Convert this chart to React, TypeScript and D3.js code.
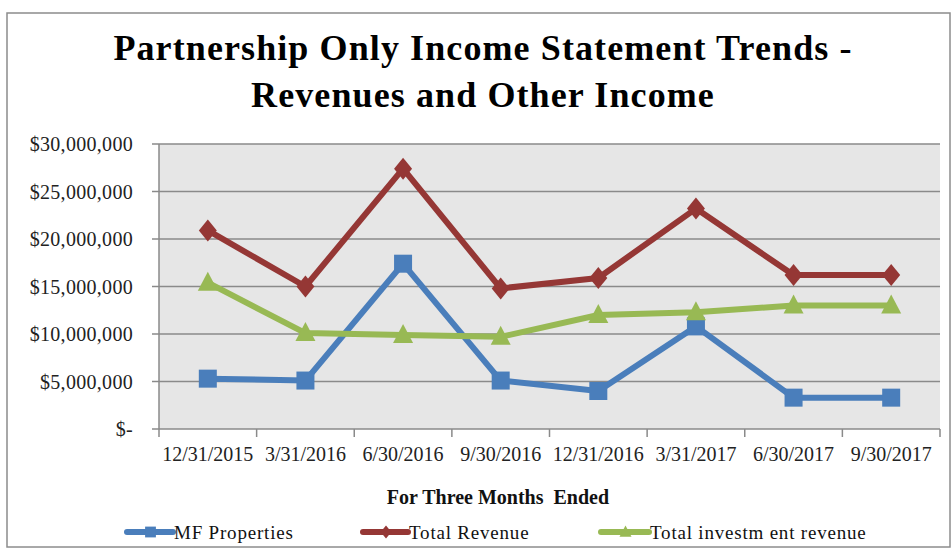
import React from "react";
import * as d3 from "d3";

const categories = ["12/31/2015", "3/31/2016", "6/30/2016", "9/30/2016", "12/31/2016", "3/31/2017", "6/30/2017", "9/30/2017"];
const mfProperties = [5.3e6, 5.1e6, 17.4e6, 5.1e6, 4.0e6, 10.8e6, 3.3e6, 3.3e6];
const totalRevenue = [20.9e6, 15.0e6, 27.4e6, 14.8e6, 15.9e6, 23.2e6, 16.2e6, 16.2e6];
const totalInvestment = [15.4e6, 10.1e6, 9.9e6, 9.7e6, 12.0e6, 12.3e6, 13.0e6, 13.0e6];
const yTicks = [0, 5e6, 10e6, 15e6, 20e6, 25e6, 30e6];
const titleLines = ["Partnership Only Income Statement Trends -", "Revenues and Other Income"];
const xAxisTitle = "For Three Months  Ended";
const seriesNames = ["MF Properties", "Total Revenue", "Total investm ent revenue"];

const W = 951, H = 549;
const PL = 159, PR = 940, PT = 144, PB = 429;
const FONT = "'Liberation Serif', 'Times New Roman', serif";

export default function App() {
  const x = d3.scaleBand<string>().domain(categories).range([PL, PR]);
  const y = d3.scaleLinear().domain([0, 30e6]).range([PB, PT]);
  const cx = (c: string) => (x(c) as number) + x.bandwidth() / 2;
  const line = d3.line<number>().x((_, i) => cx(categories[i])).y((v) => y(v));
  const fmt = (v: number) => (v === 0 ? "$-" : "$" + d3.format(",")(v));

  const series = [
    { name: seriesNames[0], data: mfProperties, color: "#4A7EBB", marker: "square" },
    { name: seriesNames[1], data: totalRevenue, color: "#953735", marker: "diamond" },
    { name: seriesNames[2], data: totalInvestment, color: "#98B954", marker: "triangle" },
  ];

  const marker = (type: string, px: number, py: number, color: string, key: any, s = 1) => {
    if (type === "square") return <rect key={key} x={px - 9 * s} y={py - 9 * s} width={18 * s} height={18 * s} fill={color} />;
    if (type === "diamond") return <path key={key} d={`M${px},${py - 11 * s}L${px + 9 * s},${py}L${px},${py + 11 * s}L${px - 9 * s},${py}Z`} fill={color} />;
    return <path key={key} d={`M${px},${py - 11 * s}L${px + 10 * s},${py + 8 * s}L${px - 10 * s},${py + 8 * s}Z`} fill={color} />;
  };

  const legendX = [127, 363, 601];
  const legendTextX = [174, 409, 650];

  return (
    <svg width={W} height={H} style={{ position: "absolute", left: 0, top: 0, background: "#fff" }} fontFamily={FONT}>
      <rect x={7} y={13} width={943} height={534} fill="#fff" stroke="#8c8c8c" strokeWidth={1.5} />
      {titleLines.map((t, i) => (
        <text key={i} x={483} y={60 + i * 47} textAnchor="middle" fontSize={36} letterSpacing={1.1} fontWeight="bold" fill="#000">{t}</text>
      ))}
      <rect x={PL} y={PT} width={PR - PL} height={PB - PT} fill="#E6E6E6" />
      {yTicks.map((t) => (
        <g key={t}>
          <line x1={PL - 7} x2={PR} y1={y(t)} y2={y(t)} stroke="#8a8a8a" strokeWidth={1.5} />
          <text x={133} y={y(t) + 7} textAnchor="end" fontSize={20} letterSpacing={0.3} fill="#222">{fmt(t)}</text>
        </g>
      ))}
      <line x1={PL} x2={PL} y1={PT} y2={PB} stroke="#8a8a8a" strokeWidth={1.5} />
      {d3.range(categories.length + 1).map((i) => {
        const xx = PL + i * x.step();
        return <line key={i} x1={xx} x2={xx} y1={PB} y2={PB + 8} stroke="#8a8a8a" strokeWidth={1.5} />;
      })}
      {categories.map((c) => (
        <text key={c} x={cx(c)} y={461} textAnchor="middle" fontSize={20} fill="#222">{c}</text>
      ))}
      <text x={498} y={504} textAnchor="middle" fontSize={20} fontWeight="bold" fill="#111" style={{ whiteSpace: "pre" }}>{xAxisTitle}</text>
      {series.map((s) => (
        <g key={s.name}>
          <path d={line(s.data) as string} fill="none" stroke={s.color} strokeWidth={6} strokeLinejoin="round" />
          {s.data.map((v, i) => marker(s.marker, cx(categories[i]), y(v), s.color, i))}
        </g>
      ))}
      {series.map((s, i) => (
        <g key={"lg" + i}>
          <line x1={legendX[i]} x2={legendTextX[i] - 1} y1={532} y2={532} stroke={s.color} strokeWidth={6} strokeLinecap="round" />
          {marker(s.marker, (legendX[i] + legendTextX[i]) / 2, 532, s.color, "m", 0.6)}
          <text x={legendTextX[i]} y={539} fontSize={19} letterSpacing={0.8} fill="#111">{s.name}</text>
        </g>
      ))}
    </svg>
  );
}
